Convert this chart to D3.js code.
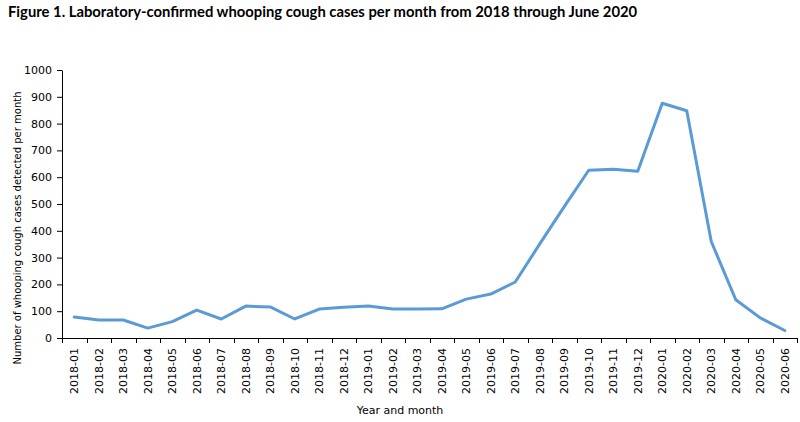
<!DOCTYPE html>
<html>
<head>
<meta charset="utf-8">
<script src="https://cdn.jsdelivr.net/npm/d3@7"></script>
<style>
  body { margin: 0; background: #fff; }
  svg { display: block; }
</style>
</head>
<body>
<svg id="chart"></svg>
<script>
// data
const months = [
  "2018-01", "2018-02", "2018-03", "2018-04", "2018-05", "2018-06",
  "2018-07", "2018-08", "2018-09", "2018-10", "2018-11", "2018-12",
  "2019-01", "2019-02", "2019-03", "2019-04", "2019-05", "2019-06",
  "2019-07", "2019-08", "2019-09", "2019-10", "2019-11", "2019-12",
  "2020-01", "2020-02", "2020-03", "2020-04", "2020-05", "2020-06"
];
const cases = [
  78, 67, 67, 37, 61, 104, 71, 119, 116, 71, 108, 115,
  119, 108, 108, 109, 145, 164, 209, 351, 490, 626, 630, 622,
  876, 848, 360, 143, 75, 28
];
const yTicks = [0, 100, 200, 300, 400, 500, 600, 700, 800, 900, 1000];

const width = 800, height = 422;
const margin = { top: 70, right: 3, bottom: 84, left: 62 };

const svg = d3.select("#chart").attr("width", width).attr("height", height);

// title
svg.append("text")
  .attr("x", 8)
  .attr("y", 17)
  .style("font-family", "Lato, 'Open Sans', sans-serif")
  .style("font-weight", "bold")
  .style("font-size", "14.8px")
  .attr("fill", "#000")
  .text("Figure 1. Laboratory-confirmed whooping cough cases per month from 2018 through June 2020");

const x = d3.scaleBand()
  .domain(months)
  .range([margin.left, width - margin.right]);

const y = d3.scaleLinear()
  .domain([0, 1000])
  .range([height - margin.bottom, margin.top]);

const axisFont = "'DejaVu Sans', Verdana, sans-serif";

// y axis
const yAxis = svg.append("g")
  .attr("transform", `translate(${margin.left},0)`)
  .call(d3.axisLeft(y).tickValues(yTicks).tickFormat(d3.format("d"))
    .tickSize(5).tickSizeOuter(0).tickPadding(5));
yAxis.selectAll("text")
  .style("font-family", axisFont)
  .style("font-size", "11px")
  .attr("fill", "#000");

// x axis: ticks on band boundaries
const xg = svg.append("g")
  .attr("transform", `translate(0,${height - margin.bottom})`);
xg.append("line")
  .attr("x1", margin.left).attr("x2", width - margin.right)
  .attr("y1", 0.5).attr("y2", 0.5)
  .attr("stroke", "#000");
const bounds = months.map(m => x(m)).concat([x(months[months.length - 1]) + x.bandwidth()]);
xg.selectAll("line.tick")
  .data(bounds)
  .enter().append("line")
  .attr("class", "tick")
  .attr("x1", d => Math.round(d) + 0.5).attr("x2", d => Math.round(d) + 0.5)
  .attr("y1", 0).attr("y2", 5)
  .attr("stroke", "#000");
xg.selectAll("text")
  .data(months)
  .enter().append("text")
  .attr("transform", d => `translate(${x(d) + x.bandwidth() / 2 + 4},10) rotate(-90)`)
  .attr("text-anchor", "end")
  .style("font-family", axisFont)
  .style("font-size", "11px")
  .attr("fill", "#000")
  .text(d => d);

svg.selectAll(".domain, .tick line").attr("stroke", "#000");

// axis titles
svg.append("text")
  .attr("transform", "translate(21,228) rotate(-90)")
  .attr("text-anchor", "middle")
  .style("font-family", axisFont)
  .style("font-size", "10px")
  .attr("fill", "#000")
  .text("Number  of whooping cough cases detected per month");

svg.append("text")
  .attr("x", 400)
  .attr("y", 414)
  .attr("text-anchor", "middle")
  .style("font-family", axisFont)
  .style("font-size", "11px")
  .attr("fill", "#000")
  .text("Year and month");

// line
const line = d3.line()
  .x((d, i) => x(months[i]) + x.bandwidth() / 2)
  .y(d => y(d));

svg.append("path")
  .datum(cases)
  .attr("d", line)
  .attr("fill", "none")
  .attr("stroke", "#5b9bd5")
  .attr("stroke-width", 3)
  .attr("stroke-linejoin", "round")
  .attr("stroke-linecap", "round");
</script>
</body>
</html>
